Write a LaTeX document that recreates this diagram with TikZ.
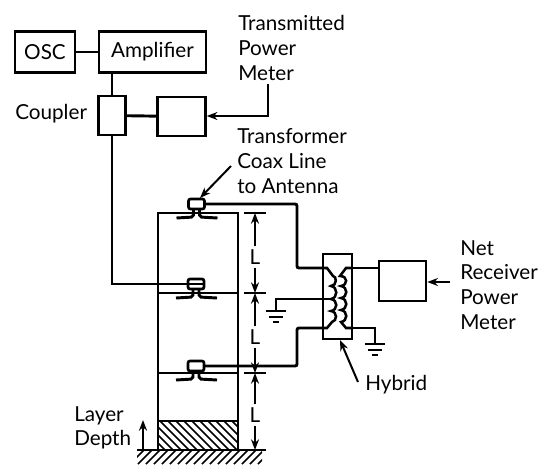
\documentclass[tikz,border=0pt]{standalone}
\usepackage{fontspec}
\setmainfont{Lato}
\usetikzlibrary{arrows.meta,calc}
\tikzset{
  ant box/.style={draw, line width=1.9pt, inner sep=0pt},
  ant wire/.style={draw, line width=2.2pt},
  ant thin/.style={draw, line width=1.5pt},
  ant coil/.style={draw, line width=1.9pt},
  ant tip/.style={-{Stealth[length=8pt,width=6pt]}},
  ant text/.style={font=\fontsize{15.5}{18.5}\selectfont},
  ant label/.style={ant text, inner sep=0pt, anchor=west},
  ant multi/.style={ant label, align=left},
}
% feed point: small box with two feet, on a layer line
\newcommand{\antfeed}[3]{%
  \draw[line width=2pt, rounded corners=1.5pt, fill=white] (#1-8,#2-5) rectangle (#1+8,#2+5);
  \draw[ant wire, rounded corners=1.5pt] (#1-3,#2+5) -- (#1-3,#2+13) -- (#1-20,#2+14);
  \draw[ant wire, rounded corners=1.5pt] (#1+3,#2+5) -- (#1+3,#2+13) -- (#1+21,#2+14);
  \coordinate (#3) at (#1+8,#2);
}
\newcommand{\earth}[1]{%
  \draw[ant wire] ($(#1)+(-10,0)$) -- ($(#1)+(10,0)$);
  \draw[ant wire] ($(#1)+(-7,6)$) -- ($(#1)+(7,6)$);
  \draw[ant wire] ($(#1)+(-3,11)$) -- ($(#1)+(3,11)$);
}
\begin{document}
\begin{tikzpicture}[x=0.75pt,y=-0.75pt]
  \useasboundingbox (0,0) rectangle (541,464);
  % top chain
  \node[ant box, minimum width=45pt, minimum height=30.75pt] (osc) at (45,52) {};
  \node[ant box, minimum width=80.25pt, minimum height=30.75pt] (amp) at (152.5,52) {};
  \node[ant box, minimum width=20.25pt, minimum height=29.25pt] (coupler) at (112,115.5) {};
  \node[ant box, minimum width=36pt, minimum height=29.25pt] (tmeter) at (181.5,116.5) {};
  \node[ant box, minimum width=35.25pt, minimum height=30pt] (rmeter) at (402.5,281) {};
  \node[ant box, minimum width=21.75pt, minimum height=63.75pt] (hybrid) at (337.5,296.5) {};
  \node[ant text] at (osc) {OSC};
  \node[ant text] at (amp) {Amplifier};
  \coordinate (tturn) at (268,116);
  \coordinate (tend) at (268,84);
  \coordinate (rend) at (450,282);
  \draw[ant wire] (osc) -- (amp);
  \draw[ant wire] (amp.south -| coupler) -- (coupler);
  \draw[ant wire] (coupler) -- (tmeter);
  \draw[ant wire, ant tip] (tend) -- (tturn) -- (tmeter.east |- tturn);
  \draw[ant wire, ant tip] (rend) -- (rmeter.east |- rend);
  % layers
  \draw[ant thin] (158,213) rectangle (238,450);
  \draw[ant thin] (158,293) -- (238,293);
  \draw[ant thin] (158,373) -- (238,373);
  \draw[ant thin] (158,421) -- (238,421);
  \begin{scope}
    \clip (158,421) rectangle (238,450);
    \foreach \x in {120,128,...,250}
      \draw[line width=1.3pt] (\x,421) -- (\x+29,450);
  \end{scope}
  \begin{scope}
    \clip (137,450) rectangle (262,464);
    \foreach \x in {130,138,...,270}
      \draw[line width=1.3pt] (\x,464) -- (\x+14,450);
  \end{scope}
  \draw[ant wire] (137,450) -- (262,450);
  % feed points
  \antfeed{196.5}{204}{feedA}
  \antfeed{196}{284}{feedB}
  \antfeed{196}{366}{feedC}
  % hybrid windings
  \coordinate (hybA) at (323,268);
  \coordinate (hybB) at (323,299);
  \coordinate (hybC) at (323,328);
  \coordinate (hybD) at (352,268);
  \coordinate (hybE) at (352,328);
  \draw[ant coil] (hybA) -- (327,268) -- (333,276)
    .. controls (337,276) and (337,286) .. (331,286)
    .. controls (338,287) and (338,298) .. (331,299)
    .. controls (338,300) and (338,310) .. (331,311)
    .. controls (338,312) and (337,321) .. (332,322) -- (327,328) -- (hybC);
  \draw[ant coil] (hybB) -- (331,299);
  \draw[ant coil] (hybD) -- (346,268) -- (340,276)
    .. controls (348,276) and (348,285) .. (341,286)
    .. controls (348,287) and (348,297) .. (341,298)
    .. controls (348,299) and (348,309) .. (341,310)
    .. controls (348,311) and (348,321) .. (341,322) -- (346,328) -- (hybE);
  % wires
  \draw[ant wire] (coupler) -- (coupler |- feedB) -- (feedB);
  \draw[ant wire, rounded corners=1.5pt] (feedA) -- (297,204) -- (297,268) -- (hybA);
  \draw[ant wire, rounded corners=1.5pt] (feedC) -- (297,366) -- (297,328) -- (hybC);
  \draw[ant wire] (hybD) -- (rmeter.west |- hybD);
  \coordinate (earthL) at (276,311);
  \coordinate (earthR) at (375,344);
  \draw[ant wire] (hybB) -- (276,299) -- (earthL);
  \draw[ant wire] (hybE) -- (375,328) -- (earthR);
  \earth{earthL}
  \earth{earthR}
  % dimensions
  \foreach \y in {213,293,373,450}
    \draw[ant thin] (244,\y) -- (266,\y);
  \foreach \ya/\yb/\lab in {213/293/257,293/373/337,373/450/415} {
    \node[ant text, inner sep=0pt] (dim\ya) at (255,\lab) {L};
    \draw[line width=1.5pt, ant tip] ($(dim\ya.north)+(0,-3)$) -- (255,\ya);
    \draw[line width=1.5pt, ant tip] ($(dim\ya.south)+(0,3)$) -- (255,\yb);
  }
  % labels
  \node[ant multi] at (238,48) {Transmitted\\Power\\Meter};
  \node[ant multi] at (237,161) {Transformer\\Coax Line\\to Antenna};
  \node[ant multi] at (460,285) {Net\\Receiver\\Power\\Meter};
  \node[ant label] at (15,114) {Coupler};
  \node[ant label] (hybtext) at (365,385) {Hybrid};
  \node[ant multi] at (74,428) {Layer\\Depth};
  \coordinate (xfmrarrow) at (231,166);
  \coordinate (hybarrow) at (358,382);
  \coordinate (deptharrow) at (143,450);
  \draw[line width=1.5pt, ant tip] (xfmrarrow) -- (200,198);
  \draw[line width=1.5pt, ant tip] (hybarrow) -- (340,340);
  \draw[line width=1.5pt, ant tip] (deptharrow) -- (143,420);
\end{tikzpicture}
\end{document}
